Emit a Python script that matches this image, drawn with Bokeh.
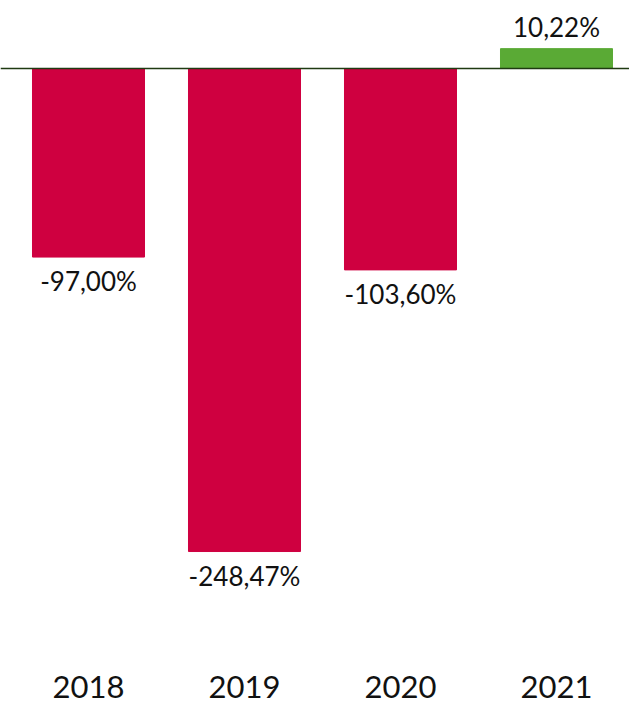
from bokeh.plotting import figure
from bokeh.models import ColumnDataSource, Span, Range1d
from bokeh.core.properties import value
from bokeh.embed import file_html
from bokeh.resources import INLINE

years = ["2018", "2019", "2020", "2021"]
values = [-97.00, -248.47, -103.60, 10.22]
labels = ["-97,00%", "-248,47%", "-103,60%", "10,22%"]

NEG = "#cf0040"
POS = "#5aaa35"
FONT = "Lato"

xs = list(range(len(years)))
colors = [NEG if v < 0 else POS for v in values]

src = ColumnDataSource(dict(x=xs, top=values, color=colors))

W, H = 629, 704
px_x = 156.0      # pixels per category
px_y = 1.944      # pixels per percent
zero_px = 68      # zero line distance from top
first_px = 88     # first category center from left

p = figure(width=W, height=H, output_backend="svg", toolbar_location=None,
           min_border=0, min_border_left=0, min_border_right=0,
           min_border_top=0, min_border_bottom=0)
p.x_range = Range1d(-first_px / px_x, (W - first_px) / px_x)
p.y_range = Range1d(-(H - zero_px) / px_y, zero_px / px_y)
p.axis.visible = False
p.grid.visible = False
p.outline_line_color = None
p.background_fill_color = "white"
p.border_fill_color = "white"

p.vbar(x="x", top="top", bottom=0, width=0.718, color="color", source=src)

p.add_layout(Span(location=0, dimension="width", line_color="#1f3a12", line_width=1.5))

neg = ColumnDataSource(dict(x=[x for x, v in zip(xs, values) if v < 0],
                            y=[v for v in values if v < 0],
                            t=[l for l, v in zip(labels, values) if v < 0]))
pos = ColumnDataSource(dict(x=[x for x, v in zip(xs, values) if v >= 0],
                            y=[v for v in values if v >= 0],
                            t=[l for l, v in zip(labels, values) if v >= 0]))

p.text(x="x", y="y", text="t", source=neg, text_align="center", text_baseline="top",
       y_offset=8, text_font=value(FONT), text_font_size="26px", text_color="#111111")
p.text(x="x", y="y", text="t", source=pos, text_align="center", text_baseline="bottom",
       y_offset=-6, text_font=value(FONT), text_font_size="26px", text_color="#111111")

ysrc = ColumnDataSource(dict(x=xs, y=[p.y_range.start] * len(xs), t=years))
p.text(x="x", y="y", text="t", source=ysrc, text_align="center", text_baseline="middle",
       y_offset=-18, text_font=value(FONT), text_font_size="31px", text_color="#111111")

open("out.html", "w").write(file_html(p, INLINE))
